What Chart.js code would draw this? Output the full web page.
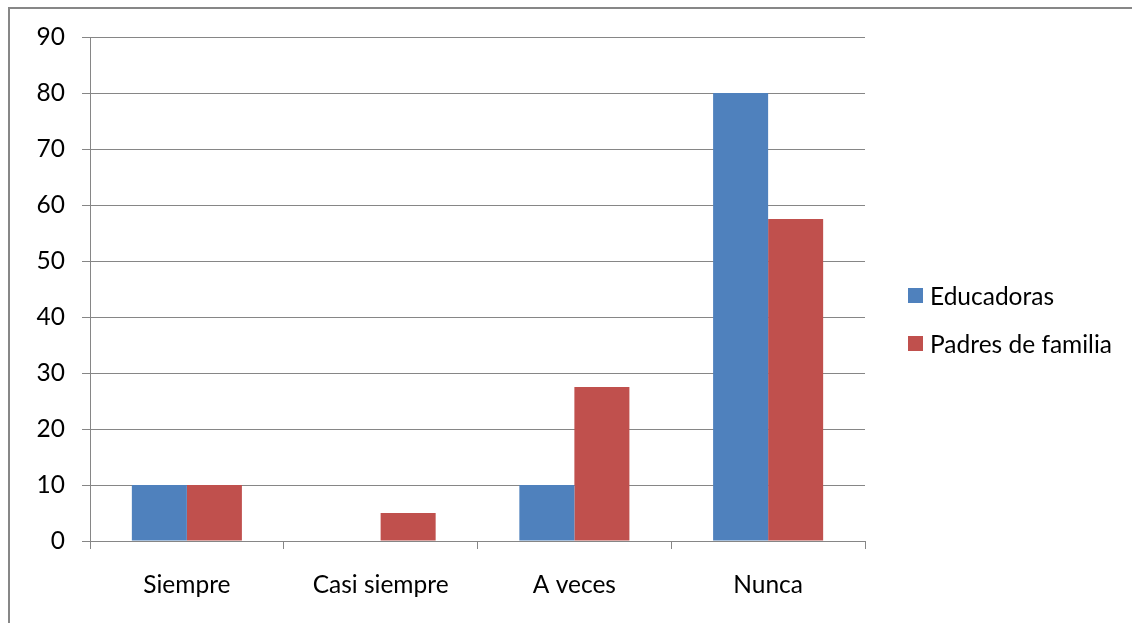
<!DOCTYPE html>
<html>
<head>
<meta charset="utf-8">
<script src="https://cdn.jsdelivr.net/npm/chart.js@4.4.0/dist/chart.umd.min.js"></script>
<style>
  html, body { margin: 0; padding: 0; background: #fff; overflow: hidden; }
  #wrap { position: relative; width: 1132px; height: 623px; }
  #frame { position: absolute; left: 8px; top: 7px; width: 1200px; height: 700px; border: 2px solid #878787; box-sizing: border-box; }
  #myChart { position: absolute; left: 0; top: 0; }
  #legend { position: absolute; left: 908px; top: 280px; font-family: Lato, sans-serif; font-size: 24.5px; color: #000; }
  .row { display: flex; align-items: center; height: 30px; margin-bottom: 18.5px; }
  .sw { width: 15px; height: 15px; margin-right: 7px; }
</style>
</head>
<body>
<div id="wrap">
  <div id="frame"></div>
  <canvas id="myChart" width="1132" height="623"></canvas>
  <div id="legend"></div>
</div>
<script>
let categories = ["Siempre", "Casi siempre", "A veces", "Nunca"];
let seriesNames = ["Educadoras", "Padres de familia"];
let educadoras = [10, 0, 10, 80];
let padres = [10, 5, 27.5, 57.5];
let colors = ["#4F81BD", "#C0504D"];

const ctx = document.getElementById('myChart');
const fontSpec = {family: "Lato, sans-serif", size: 24.5};

const chart = new Chart(ctx, {
  type: "bar",
  data: {
    labels: categories,
    datasets: [
      {label: seriesNames[0], data: educadoras, backgroundColor: colors[0]},
      {label: seriesNames[1], data: padres, backgroundColor: colors[1]}
    ]
  },
  options: {
    responsive: false,
    animation: false,
    datasets: { bar: { barPercentage: 1, categoryPercentage: 0.568 } },
    layout: { padding: { left: 0, top: 37, right: 267, bottom: 0 } },
    plugins: { legend: {display: false}, tooltip: {enabled: false} },
    scales: {
      x: {
        grid: { offset: true, drawOnChartArea: false, drawTicks: true, tickLength: 8, color: "#868686" },
        border: { color: "#868686" },
        ticks: { color: "#000", font: fontSpec, padding: 21 },
        afterFit: s => { s.height = 82; }
      },
      y: {
        min: 0, max: 90,
        ticks: { stepSize: 10, color: "#000", font: fontSpec, padding: 17 },
        grid: { color: "#868686", tickLength: 8 },
        border: { color: "#868686" },
        afterFit: s => { s.width = 90; }
      }
    }
  }
});

// legend built from the chart datasets
const legendEl = document.getElementById('legend');
chart.data.datasets.forEach(ds => {
  const row = document.createElement('div');
  row.className = 'row';
  row.innerHTML = '<div class="sw" style="background:' + ds.backgroundColor + '"></div><span>' + ds.label + '</span>';
  legendEl.appendChild(row);
});
</script>
</body>
</html>
